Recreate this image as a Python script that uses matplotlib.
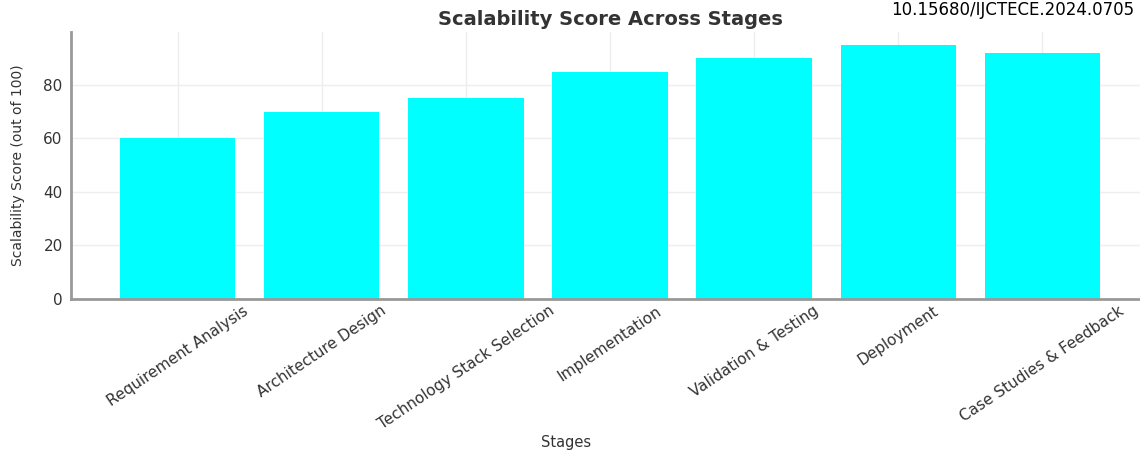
import matplotlib.pyplot as plt

stages = ['Requirement Analysis', 'Architecture Design', 'Technology Stack Selection',
          'Implementation', 'Validation & Testing', 'Deployment', 'Case Studies & Feedback']
scores = [60, 70, 75, 85, 90, 95, 92]
yticks = [0, 20, 40, 60, 80]
doi = '10.15680/IJCTECE.2024.0705'

fig = plt.figure(figsize=(11.4, 4.54), dpi=100)
ax = fig.add_axes([0.0623, 0.3414, 0.9456, 0.588])

ax.bar(range(len(stages)), scores, width=0.8, color='#00FFFF', zorder=2)

ax.set_yticks(yticks)
ax.set_xticks(range(len(stages)))
ax.set_xticklabels(stages, rotation=34, ha='center', fontsize=11, color='#333333')
ax.tick_params(axis='y', labelsize=11, colors='#333333', length=0, pad=6)
ax.tick_params(axis='x', direction='in', length=3, color='#333333', pad=3)
ax.grid(True, color='#eeeeee', linewidth=1, zorder=0)

for s in ['top', 'right']:
    ax.spines[s].set_visible(False)
for s in ['left', 'bottom']:
    ax.spines[s].set_color('#999999')
    ax.spines[s].set_linewidth(2)

ax.set_title('Scalability Score Across Stages', fontsize=14, fontweight='bold',
             color='#333333', pad=5)
ax.set_xlabel('Stages', fontsize=10.5, color='#333333')
ax.xaxis.set_label_coords(0.459, -0.51)
ax.set_ylabel('Scalability Score (out of 100)', fontsize=10, color='#333333')
ax.yaxis.set_label_coords(-0.043, 0.5)

# header line in the top right corner
fig.text(0.995, 0.997, doi, fontsize=12, color='black', ha='right', va='top')

fig.savefig('out.png', dpi=100)
